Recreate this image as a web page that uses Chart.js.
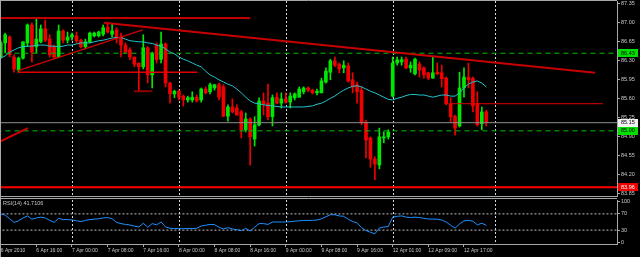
<!DOCTYPE html>
<html>
<head>
<meta charset="utf-8">
<script src="https://cdn.jsdelivr.net/npm/chart.js@4.4.1/dist/chart.umd.min.js"></script>
<style>
    html, body { margin: 0; padding: 0; background: #000; }
    #wrap { position: relative; width: 640px; height: 257px; overflow: hidden; background: #000; }
    #mainChart { position: absolute; left: 0; top: 0; }
    #rsiChart { position: absolute; left: 0; top: 198px; }
</style>
</head>
<body>
<div id="wrap">
    <canvas id="mainChart" width="640" height="198"></canvas>
    <canvas id="rsiChart" width="640" height="59"></canvas>
</div>
<script>
// hourly candles, 6 Apr 2010 08:00 .. 12 Apr 2010 21:00
const open = [86.36, 86.62, 86.73, 86.36, 86.12, 86.34, 86.62, 86.95, 86.55, 86.64,
    86.88, 86.69, 86.55, 86.36, 86.84, 86.67, 86.73, 86.75, 86.67, 86.55,
    86.64, 86.75, 86.75, 86.78, 86.91, 86.78, 86.86, 86.73, 86.58, 86.49,
    86.36, 86.25, 86.18, 86.53, 86.03, 86.58, 86.32, 86.60, 85.88, 85.68,
    85.73, 85.64, 85.57, 85.57, 85.62, 85.57, 85.77, 85.72, 85.79, 85.85,
    85.81, 85.27, 85.44, 85.42, 85.35, 85.02, 85.22, 84.85, 85.11, 85.55,
    85.51, 85.26, 85.62, 85.51, 85.59, 85.53, 85.61, 85.62, 85.72, 85.79,
    85.75, 85.70, 85.70, 85.90, 86.08, 86.29, 86.23, 86.16, 86.20, 85.94,
    85.85, 85.75, 85.16, 84.87, 84.48, 84.37, 84.87, 84.89, 85.64, 86.25,
    86.27, 86.32, 86.16, 86.05, 86.23, 86.16, 86.07, 85.97, 86.08, 86.07,
    85.97, 85.50, 85.27, 85.09, 85.79, 85.99, 85.97, 85.50, 85.13, 85.35];
const high = [86.66, 86.80, 86.75, 86.40, 86.36, 86.64, 86.97, 86.99, 87.06, 86.95,
    87.04, 86.77, 86.58, 86.95, 86.86, 86.82, 86.80, 86.82, 86.69, 86.69,
    86.82, 86.82, 86.84, 86.95, 86.99, 86.97, 86.90, 86.80, 86.62, 86.53,
    86.36, 86.25, 86.77, 86.55, 86.45, 86.62, 86.82, 86.62, 85.90, 85.75,
    85.75, 85.66, 85.64, 85.72, 85.66, 85.79, 85.81, 85.88, 85.85, 85.88,
    85.85, 85.48, 85.59, 85.48, 85.38, 85.33, 85.24, 85.26, 85.61, 85.70,
    85.86, 85.66, 85.70, 85.70, 85.70, 85.70, 85.70, 85.81, 85.81, 85.81,
    85.77, 85.77, 85.97, 86.16, 86.32, 86.36, 86.25, 86.29, 86.25, 86.07,
    85.90, 85.81, 85.20, 84.89, 84.52, 85.05, 84.98, 85.02, 86.36, 86.36,
    86.36, 86.36, 86.27, 86.34, 86.27, 86.18, 86.08, 86.38, 86.25, 86.21,
    85.99, 85.61, 85.29, 86.08, 86.16, 86.25, 85.99, 85.72, 85.44, 85.38];
const low = [86.34, 86.44, 86.36, 86.08, 86.08, 86.32, 86.55, 86.27, 86.44, 86.62,
    86.64, 86.36, 86.34, 86.36, 86.62, 86.62, 86.67, 86.62, 86.53, 86.51,
    86.62, 86.73, 86.73, 86.75, 86.80, 86.73, 86.62, 86.36, 86.43, 86.31,
    86.18, 85.72, 86.14, 85.88, 85.79, 86.25, 86.25, 85.81, 85.51, 85.61,
    85.57, 85.46, 85.53, 85.53, 85.53, 85.53, 85.68, 85.68, 85.75, 85.57,
    85.26, 85.18, 85.33, 85.29, 84.87, 84.98, 84.37, 84.72, 85.09, 85.29,
    85.20, 85.09, 85.50, 85.42, 85.51, 85.42, 85.57, 85.62, 85.68, 85.72,
    85.68, 85.66, 85.70, 85.88, 85.94, 86.18, 86.07, 86.07, 85.90, 85.70,
    85.51, 85.11, 84.50, 84.33, 84.10, 84.30, 84.78, 84.85, 85.62, 86.21,
    86.21, 86.14, 86.08, 86.03, 85.99, 85.97, 85.94, 85.97, 86.03, 85.81,
    85.48, 85.16, 84.92, 85.07, 85.62, 85.79, 85.35, 85.09, 85.02, 85.09];
const close = [86.62, 86.77, 86.40, 86.14, 86.34, 86.64, 86.95, 86.45, 86.69, 86.88,
    86.67, 86.40, 86.36, 86.84, 86.67, 86.73, 86.77, 86.66, 86.55, 86.64,
    86.80, 86.80, 86.82, 86.90, 86.82, 86.84, 86.71, 86.58, 86.45, 86.36,
    86.23, 86.18, 86.53, 86.03, 86.43, 86.31, 86.60, 85.88, 85.68, 85.73,
    85.62, 85.57, 85.61, 85.62, 85.55, 85.77, 85.70, 85.85, 85.85, 85.62,
    85.27, 85.44, 85.35, 85.29, 85.02, 85.22, 84.89, 85.11, 85.55, 85.50,
    85.26, 85.61, 85.51, 85.59, 85.53, 85.64, 85.68, 85.77, 85.79, 85.75,
    85.70, 85.73, 85.92, 86.10, 86.29, 86.21, 86.14, 86.21, 85.92, 85.81,
    85.72, 85.15, 84.83, 84.48, 84.39, 84.89, 84.89, 84.98, 86.25, 86.31,
    86.31, 86.16, 86.21, 86.32, 86.12, 86.03, 85.97, 86.07, 86.05, 85.96,
    85.50, 85.26, 85.05, 85.79, 85.99, 85.94, 85.46, 85.11, 85.35, 85.15];
const movingAvg = [86.34, 86.38, 86.45, 86.49, 86.53, 86.55, 86.56, 86.56, 86.58, 86.58,
    86.58, 86.56, 86.56, 86.55, 86.56, 86.58, 86.58, 86.60, 86.62, 86.62,
    86.62, 86.64, 86.66, 86.67, 86.69, 86.71, 86.72, 86.72, 86.69, 86.66,
    86.65, 86.64, 86.64, 86.62, 86.61, 86.58, 86.56, 86.51, 86.45, 86.42,
    86.36, 86.32, 86.29, 86.25, 86.21, 86.18, 86.10, 86.03, 85.99, 85.94,
    85.90, 85.86, 85.83, 85.77, 85.70, 85.62, 85.55, 85.51, 85.50, 85.48,
    85.47, 85.46, 85.45, 85.44, 85.44, 85.44, 85.44, 85.44, 85.44, 85.45,
    85.46, 85.49, 85.51, 85.55, 85.60, 85.64, 85.70, 85.75, 85.79, 85.82,
    85.83, 85.81, 85.77, 85.73, 85.70, 85.66, 85.62, 85.58, 85.57, 85.60,
    85.62, 85.65, 85.67, 85.67, 85.66, 85.66, 85.64, 85.62, 85.64, 85.66,
    85.66, 85.64, 85.64, 85.70, 85.79, 85.86, 85.90, 85.92, 85.88, 85.81];
const rsi = [69.7, 67, 58, 49, 53, 60, 65, 57, 60, 62,
    60, 54, 49, 59, 56, 56, 55, 53, 51, 54,
    56, 57, 58, 60, 61, 58, 49, 46, 44, 42.6,
    40, 37.5, 47, 37, 46, 43, 50, 38, 34.5, 34,
    33.5, 33.5, 34, 34, 34.5, 40, 42, 44, 43.5, 37,
    32.8, 36, 33, 31, 28.6, 34.5, 27.8, 37, 46, 46,
    44, 50, 50, 50, 50, 51, 52, 53, 54, 54,
    54, 55, 58, 63, 68, 68, 65, 64, 57, 51,
    48, 36, 29, 24.6, 21, 35, 37.5, 39, 62, 64,
    65, 62, 61, 62, 61, 59, 57.5, 57, 57, 55,
    50, 42, 35, 45, 53, 54, 52, 43, 47, 41.7106];

// drawn objects: [barIndex, price] end points
const topLevel = [[-1, 87.08], [56, 87.08]];
const trendDown = [[23.2, 86.99], [133.4, 86.07]];
const trendUp = [[3.9, 86.11], [31.9, 86.86]];
const trendUpLow = [[-0.2, 84.80], [6.1, 85.05]];
const midLevel = [[3.9, 86.08], [44.1, 86.08]];
const stopLevel = [[29.9, 85.73], [34.0, 85.73]];
const rightLevel = [[101.3, 85.50], [135.2, 85.50]];
const greenLevels = [86.43, 85.00];
const bidLevel = 85.15;
const supportLevel = 83.96;

const priceTicks = [83.85, 84.20, 84.55, 84.90, 85.25, 85.60, 85.95, 86.30, 86.65, 87.00, 87.35];
const rsiTicks = [0, 30, 70, 100];
const rsiLevels = [30, 70];
const timeTickIdx = [0, 8, 16, 24, 32, 40, 48, 56, 64, 72, 80, 88, 96, 104];
const timeTickLabels = ['6 Apr 2010', '6 Apr 16:00', '7 Apr 00:00', '7 Apr 08:00', '7 Apr 16:00',
    '8 Apr 00:00', '8 Apr 08:00', '8 Apr 16:00', '9 Apr 00:00', '9 Apr 08:00', '9 Apr 16:00',
    '12 Apr 01:00', '12 Apr 09:00', '12 Apr 17:00'];
const daySeparators = [16, 40, 64, 88, 111];

const BULL = '#00e800';
const BEAR = '#f00000';
const AXIS_TEXT = '#c8c8c8';
const FRAME = '#a8a8a8';
const X_MIN = 0.061, X_MAX = 138.35;

function seg(points, color, width, dash) {
    return {
        type: 'line',
        data: points.map(p => ({ x: p[0], y: p[1] })),
        borderColor: color,
        borderWidth: width,
        borderDash: dash || [],
        pointRadius: 0,
        fill: false,
        tension: 0,
        order: 1
    };
}
const fullWidth = (v) => [[-5, v], [145, v]];
const candleColor = open.map((o, i) => close[i] >= o ? BULL : BEAR);

const noPad = (s) => { s.paddingTop = 0; s.paddingBottom = 0; s.paddingLeft = 0; s.paddingRight = 0; };

const daySepPlugin = {
    id: 'daySep',
    beforeDatasetsDraw(chart) {
        const { ctx, chartArea, scales } = chart;
        ctx.save();
        ctx.strokeStyle = '#d8d8d8';
        ctx.lineWidth = 1;
        ctx.setLineDash([2, 2]);
        daySeparators.forEach(i => {
            const x = Math.round(scales.x.getPixelForValue(i)) + 0.5;
            ctx.beginPath();
            ctx.moveTo(x, chartArea.top);
            ctx.lineTo(x, chartArea.bottom);
            ctx.stroke();
        });
        ctx.restore();
    }
};

const framePlugin = {
    id: 'frame',
    afterDraw(chart) {
        const { ctx, chartArea } = chart;
        ctx.save();
        ctx.strokeStyle = FRAME;
        ctx.lineWidth = 1;
        ctx.beginPath();
        ctx.moveTo(0.5, 0);
        ctx.lineTo(0.5, chart.height);
        ctx.moveTo(0, 0.5);
        ctx.lineTo(chartArea.right, 0.5);
        if (chart.canvas.id === 'mainChart') {
            ctx.moveTo(0, chartArea.bottom + 0.5);
            ctx.lineTo(chartArea.right, chartArea.bottom + 0.5);
        }
        ctx.stroke();
        ctx.restore();
    }
};

const priceTagPlugin = {
    id: 'priceTags',
    afterDraw(chart) {
        const { ctx, scales } = chart;
        const tags = [
            { v: greenLevels[0], bg: '#00e000', fg: '#000' },
            { v: bidLevel, bg: '#f0f0f0', fg: '#000' },
            { v: greenLevels[1], bg: '#00e000', fg: '#000' },
            { v: supportLevel, bg: '#f00000', fg: '#fff' }
        ];
        ctx.save();
        ctx.font = '5.5px "Liberation Sans"';
        ctx.textBaseline = 'middle';
        tags.forEach(t => {
            const y = scales.y.getPixelForValue(t.v);
            ctx.fillStyle = t.bg;
            ctx.fillRect(618, Math.round(y) - 4, 20, 8);
            ctx.fillStyle = t.fg;
            ctx.fillText(t.v.toFixed(2), 621, y);
        });
        ctx.restore();
    }
};

new Chart(document.getElementById('mainChart').getContext('2d'), {
    type: 'bar',
    data: {
        datasets: [
            seg(topLevel, '#c00000', 2),
            seg(trendDown, '#c80000', 2),
            seg(trendUp, '#d00000', 1.5),
            seg(trendUpLow, '#d00000', 2),
            seg(midLevel, '#e00000', 1.5),
            seg(stopLevel, '#8b0000', 2),
            seg(rightLevel, '#e00000', 1),
            seg(fullWidth(greenLevels[0]), '#00c000', 1, [5, 4]),
            seg(fullWidth(greenLevels[1]), '#00c000', 1, [5, 4]),
            seg(fullWidth(bidLevel), '#909090', 1),
            seg(fullWidth(supportLevel), '#ff0000', 2),
            {
                type: 'line',
                data: movingAvg.map((v, i) => ({ x: i, y: v })),
                borderColor: '#22c4cc',
                borderWidth: 1,
                pointRadius: 0,
                fill: false,
                tension: 0,
                order: 5
            },
            {
                label: 'wick',
                data: open.map((o, i) => ({ x: i, y: [low[i], high[i]] })),
                backgroundColor: candleColor,
                barThickness: 1,
                grouped: false,
                borderWidth: 0,
                order: 10
            },
            {
                label: 'body',
                data: open.map((o, i) => ({ x: i, y: [o, close[i]] })),
                backgroundColor: candleColor,
                barThickness: 3,
                minBarLength: 1,
                grouped: false,
                borderWidth: 0,
                order: 9
            }
        ]
    },
    options: {
        responsive: false,
        animation: false,
        layout: { padding: { left: 1, top: 1, right: 0, bottom: 2 } },
        plugins: { legend: { display: false }, tooltip: { enabled: false } },
        scales: {
            x: { type: 'linear', display: false, min: X_MIN, max: X_MAX, offset: false },
            y: {
                type: 'linear',
                position: 'right',
                min: 83.800,
                max: 87.392,
                afterBuildTicks: (s) => { s.ticks = priceTicks.map(v => ({ value: v })); },
                afterFit: (s) => { s.width = 23; noPad(s); },
                grid: { drawOnChartArea: false, drawTicks: true, tickLength: 3, color: FRAME },
                border: { display: true, color: FRAME },
                ticks: {
                    autoSkip: false,
                    padding: 1,
                    color: AXIS_TEXT,
                    font: { family: 'Liberation Sans', size: 5.5 },
                    callback: (v) => Number(v).toFixed(2)
                }
            }
        }
    },
    plugins: [daySepPlugin, framePlugin, priceTagPlugin]
});

const rsiTitlePlugin = {
    id: 'rsiTitle',
    afterDraw(chart) {
        const { ctx, chartArea } = chart;
        ctx.save();
        ctx.font = '5.5px "Liberation Sans"';
        ctx.fillStyle = AXIS_TEXT;
        ctx.textBaseline = 'middle';
        ctx.fillText('RSI(14) ' + rsi[rsi.length - 1].toFixed(4), chartArea.left + 2, chartArea.top + 3);
        ctx.restore();
    }
};

new Chart(document.getElementById('rsiChart').getContext('2d'), {
    type: 'line',
    data: {
        datasets: [
            ...rsiLevels.map(v => seg(fullWidth(v), '#c0c0c0', 1, [2, 2])),
            {
                data: rsi.map((v, i) => ({ x: i, y: v })),
                borderColor: '#1e90ff',
                borderWidth: 1,
                pointRadius: 0,
                fill: false,
                tension: 0,
                order: 0
            }
        ]
    },
    options: {
        responsive: false,
        animation: false,
        layout: { padding: { left: 1, top: 2, right: 0, bottom: 0 } },
        plugins: { legend: { display: false }, tooltip: { enabled: false } },
        scales: {
            x: {
                type: 'linear',
                position: 'bottom',
                min: X_MIN,
                max: X_MAX,
                afterBuildTicks: (s) => { s.ticks = timeTickIdx.map(v => ({ value: v })); },
                afterFit: (s) => { s.height = 13; noPad(s); },
                grid: { drawOnChartArea: false, drawTicks: true, tickLength: 3, color: FRAME },
                border: { display: true, color: FRAME },
                ticks: {
                    autoSkip: false,
                    maxRotation: 0,
                    align: 'start',
                    padding: 1,
                    color: AXIS_TEXT,
                    font: { family: 'Liberation Sans', size: 5 },
                    callback: (v) => timeTickLabels[timeTickIdx.indexOf(v)]
                }
            },
            y: {
                type: 'linear',
                position: 'right',
                min: -4.19,
                max: 104.19,
                afterBuildTicks: (s) => { s.ticks = rsiTicks.map(v => ({ value: v })); },
                afterFit: (s) => { s.width = 23; noPad(s); },
                grid: { drawOnChartArea: false, drawTicks: true, tickLength: 3, color: FRAME },
                border: { display: true, color: FRAME },
                ticks: {
                    autoSkip: false,
                    padding: 1,
                    color: AXIS_TEXT,
                    font: { family: 'Liberation Sans', size: 5.5 }
                }
            }
        }
    },
    plugins: [daySepPlugin, framePlugin, rsiTitlePlugin]
});
</script>
</body>
</html>
